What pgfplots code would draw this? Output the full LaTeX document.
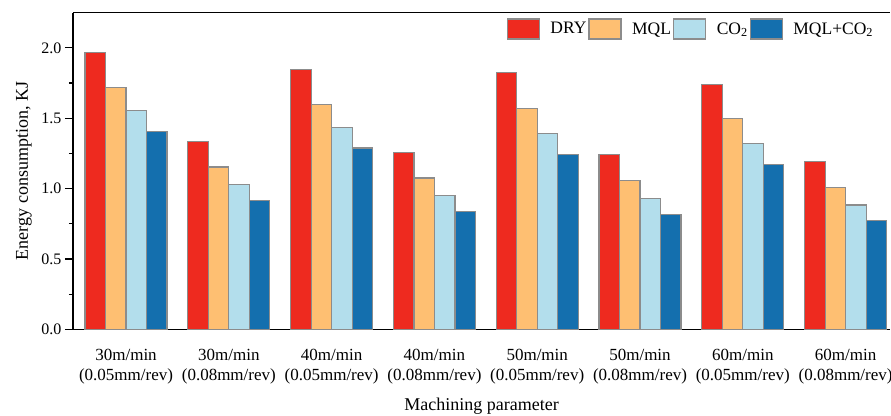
\documentclass[border=0pt]{standalone}
\usepackage{fontspec}
\setmainfont{Liberation Serif}
\usepackage{pgfplots}
\pgfplotsset{compat=1.18}
\definecolor{cdry}{RGB}{238,42,31}
\definecolor{cmql}{RGB}{254,191,114}
\definecolor{cco}{RGB}{179,222,236}
\definecolor{cmix}{RGB}{20,111,174}
\definecolor{cedge}{RGB}{140,140,140}
\begin{document}
\begin{tikzpicture}
\begin{axis}[
 scale only axis, width=817pt, height=316.6pt,
 ybar=0pt, bar width=20.5pt,
 xmin=-0.516, xmax=7.432, ymin=0, ymax=2.25,
 axis x line*=bottom, axis y line*=left,
 axis line style={line width=1.2pt, black},
 xtick={0,...,7},
 xticklabels={{30m/min\\(0.05mm/rev)},{30m/min\\(0.08mm/rev)},{40m/min\\(0.05mm/rev)},{40m/min\\(0.08mm/rev)},{50m/min\\(0.05mm/rev)},{50m/min\\(0.08mm/rev)},{60m/min\\(0.05mm/rev)},{60m/min\\(0.08mm/rev)}},
 xtick style={draw=none},
 xticklabel style={align=center, font=\fontsize{17}{20.5}\selectfont, yshift=-8pt},
 ytick={0,0.5,1,1.5,2},
 minor ytick={0.25,0.75,1.25,1.75},
 tick align=outside, major tick length=8pt, minor tick length=4pt,
 ytick style={line width=1.2pt, black},
 yticklabel style={font=\fontsize{16}{19}\selectfont, /pgf/number format/fixed, /pgf/number format/fixed zerofill, /pgf/number format/precision=1, /pgf/number format/assume math mode=true},
 ylabel={Energy consumption, KJ},
 ylabel style={font=\fontsize{18}{21}\selectfont, at={(axis description cs:-0.0461,0.5)}, anchor=south},
 xlabel={Machining parameter},
 xlabel style={font=\fontsize{18}{21}\selectfont, at={(axis description cs:0.5,-0.2053)}, anchor=north},
 legend columns=4,
 legend style={draw=none, fill=none, inner sep=0pt, at={(axis description cs:0.982,0.9485)}, anchor=east, font=\fontsize{17.5}{21}\selectfont, /tikz/every odd column/.append style={column sep=1.5pt}},
 every axis plot post/.append style={draw=cedge, line width=1.2pt, /pgfplots/legend image code/.code={\draw[##1] (0pt,-10pt) rectangle (32pt,10pt); \path (39pt,0pt);}},
]
\addplot[fill=cdry] coordinates {(0,1.967) (1,1.337) (2,1.846) (3,1.259) (4,1.823) (5,1.245) (6,1.740) (7,1.193)};
\addplot[fill=cmql] coordinates {(0,1.721) (1,1.153) (2,1.598) (3,1.075) (4,1.570) (5,1.060) (6,1.496) (7,1.008)};
\addplot[fill=cco] coordinates {(0,1.555) (1,1.030) (2,1.432) (3,0.949) (4,1.394) (5,0.930) (6,1.321) (7,0.883)};
\addplot[fill=cmix] coordinates {(0,1.406) (1,0.916) (2,1.288) (3,0.838) (4,1.245) (5,0.814) (6,1.174) (7,0.771)};
\legend{DRY, MQL, CO\textsubscript{2}, MQL+CO\textsubscript{2}}
\draw[line width=1.2pt, black] (rel axis cs:0,1) -- (rel axis cs:1,1);
\coordinate (ll) at (rel axis cs:0,0);
\coordinate (ur) at (rel axis cs:1,1);
\end{axis}
\pgfresetboundingbox
\path ([shift={(-73pt,-86.7pt)}]ll) rectangle ([shift={(1pt,12.7pt)}]ur);
\end{tikzpicture}
\end{document}
